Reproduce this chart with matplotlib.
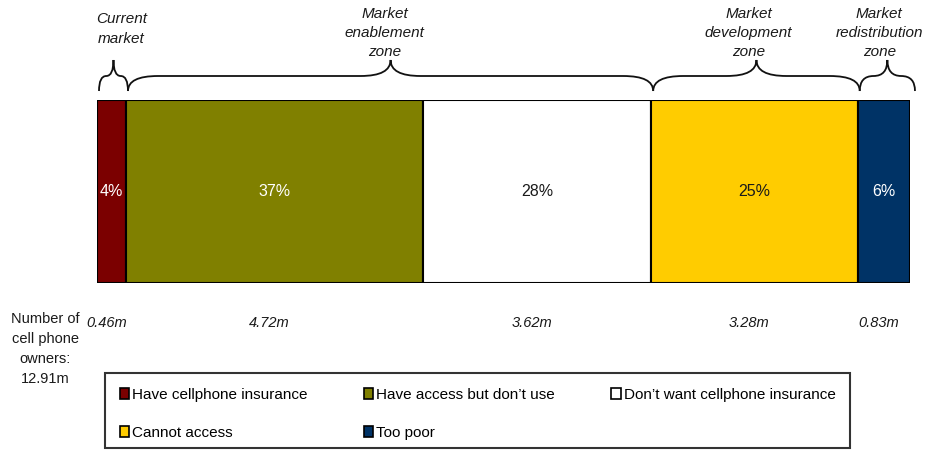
import numpy as np
import matplotlib.pyplot as plt
from matplotlib.path import Path
from matplotlib.patches import PathPatch, Patch, Rectangle

plt.rcParams['font.family'] = ['Liberation Sans', 'DejaVu Sans']

# Daten
categories = ["Have cellphone insurance", "Have access but don\u2019t use",
              "Don\u2019t want cellphone insurance", "Cannot access", "Too poor"]
owners_m = [0.46, 4.72, 3.62, 3.28, 0.83]
total_m = 12.91
colors = ["#7b0000", "#808000", "#ffffff", "#ffcc00", "#003366"]
pct_colors = ["white", "white", "#1a1a1a", "#1a1a1a", "white"]

zones = ["Current\nmarket", "Market\nenablement\nzone", "Market\ndevelopment\nzone",
         "Market\nredistribution\nzone"]
zone_groups = [[0], [1, 2], [3], [4]]

W, H = 931, 450
fig = plt.figure(figsize=(W / 100, H / 100), dpi=100)

# Balken
bx0, bx1, by0, by1 = 97, 910, 100, 283
ax = fig.add_axes([bx0 / W, 1 - by1 / H, (bx1 - bx0) / W, (by1 - by0) / H])
lefts = np.concatenate([[0], np.cumsum(owners_m)[:-1]])
bars = ax.barh(0, owners_m, left=lefts, height=1, color=colors,
               edgecolor="black", linewidth=1.5)
ax.set_xlim(0, sum(owners_m))
ax.set_ylim(-0.5, 0.5)
ax.axis("off")

for i, v in enumerate(owners_m):
    pct = round(v / total_m * 100)
    ax.text(lefts[i] + v / 2, 0, f"{pct}%", ha="center", va="center",
            color=pct_colors[i], fontsize=11.5)

# Overlay in Pixelkoordinaten
ov = fig.add_axes([0, 0, 1, 1])
ov.set_xlim(0, W)
ov.set_ylim(H, 0)
ov.axis("off")


def to_px(x):
    return bx0 + x / sum(owners_m) * (bx1 - bx0)


def brace(x0, x1, y_end=91, y_mid=76, y_tip=60):
    xm = (x0 + x1) / 2
    r = min(30, (x1 - x0) / 4)
    verts = [(x0, y_end), (x0, y_mid), (x0 + r, y_mid),
             (xm - r, y_mid),
             (xm, y_mid), (xm, y_tip),
             (xm, y_mid), (xm + r, y_mid),
             (x1 - r, y_mid),
             (x1, y_mid), (x1, y_end)]
    codes = [Path.MOVETO, Path.CURVE3, Path.CURVE3,
             Path.LINETO,
             Path.CURVE3, Path.CURVE3,
             Path.CURVE3, Path.CURVE3,
             Path.LINETO,
             Path.CURVE3, Path.CURVE3]
    ov.add_patch(PathPatch(Path(verts, codes), fill=False, lw=1.3,
                           edgecolor="#111111", capstyle="butt"))
    return xm


zone_dx = [8, -6, -8, -8]
zone_y = [29, 33, 33, 33]
ends = list(np.cumsum(owners_m))
for k, grp in enumerate(zone_groups):
    x0 = to_px(lefts[grp[0]]) + 2
    x1 = to_px(ends[grp[-1]]) + (5 if k == 3 else 2)
    xm = brace(x0, x1)
    ov.text(xm + zone_dx[k], zone_y[k], zones[k], ha="center", va="center",
            fontsize=11, style="italic", color="#1a1a1a", linespacing=1.5)

# Anzahl Besitzer
for i, v in enumerate(owners_m):
    ov.text(to_px(lefts[i] + v / 2) - 5, 323, f"{v:.2f}m", ha="center",
            va="center", fontsize=10.5, style="italic", color="#1a1a1a")
ov.text(45, 349, f"Number of\ncell phone\nowners:\n{total_m:.2f}m", ha="center",
        va="center", fontsize=10.5, color="#1a1a1a", linespacing=1.55)

# Legende (Rahmen separat)
ov.add_patch(Rectangle((105, 373), 745, 75, fill=False, lw=1.5,
                       edgecolor="#333333"))
handles = [Patch(facecolor=c, edgecolor="black", linewidth=1.2) for c in colors]
order = [0, 3, 1, 4, 2]
leg = fig.legend([handles[i] for i in order], [categories[i] for i in order],
                 ncol=3, loc="upper left", mode="expand",
                 bbox_to_anchor=(105 / W, 0, 745 / W, 1 - 373 / H),
                 borderaxespad=0, borderpad=0.95, frameon=False,
                 fontsize=11, handlelength=0.6,
                 handleheight=0.75, handletextpad=0.2, labelspacing=1.6,
                 columnspacing=1.0)

fig.savefig("out.png", dpi=100)
